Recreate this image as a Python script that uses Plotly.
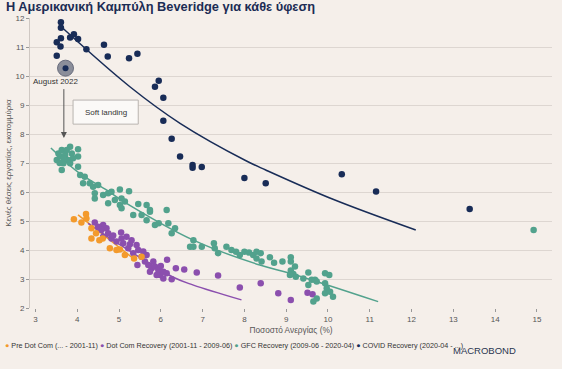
import plotly.graph_objects as go

# ---------------- data ----------------
covid_x = [3.61, 3.61, 3.61, 3.51, 3.60, 3.51, 3.83, 3.92, 4.02, 4.22, 4.64, 4.73, 5.24, 5.44,
           5.95, 5.86, 6.06, 6.06, 6.26, 6.46, 6.76, 6.76, 6.98, 8.00, 8.51, 10.33, 11.15, 13.39]
covid_y = [11.85, 11.66, 11.30, 11.16, 11.02, 10.70, 11.33, 11.44, 11.28, 10.92, 11.08, 10.67, 10.61, 10.77,
           9.84, 9.63, 9.25, 8.46, 7.84, 7.22, 6.93, 6.84, 6.86, 6.48, 6.30, 6.61, 6.02, 5.41]

aug2022_x = [3.72]
aug2022_y = [10.27]

gfc_x = [3.63, 3.83, 4.02, 3.51, 3.59, 3.71, 3.78, 3.67, 3.83, 3.63, 4.02, 4.02, 3.87, 3.55, 3.75, 3.90, 3.68, 3.58,
         4.07, 4.18, 4.14, 4.30, 4.38, 4.50, 4.42, 4.42, 4.62, 4.74, 4.82, 5.02, 5.24, 4.74, 4.90, 5.06, 5.02,
         5.14, 5.06, 5.46, 5.66, 5.74, 6.14, 5.34, 5.74, 5.54, 5.66, 5.86, 5.95, 6.18, 6.26, 6.34, 6.78, 6.70,
         6.78, 6.98, 7.27, 7.29, 7.37, 7.57, 7.69, 7.80, 7.89, 8.00, 8.11, 8.21, 8.29, 8.39, 8.41, 8.29, 8.61,
         8.71, 8.91, 9.11, 9.11, 9.21, 9.11, 9.17, 9.23, 9.09, 9.41, 9.53, 9.53, 9.61, 9.69, 9.73, 9.93, 10.03,
         9.93, 9.97, 9.93, 10.05, 10.12, 9.73, 9.65, 14.92]
gfc_y = [7.45, 7.56, 7.47, 7.10, 7.22, 7.28, 7.10, 6.99, 6.99, 6.76, 7.22, 6.87, 7.33, 7.33, 7.45, 7.16, 7.15, 7.00,
         6.59, 6.53, 6.30, 6.30, 6.18, 6.24, 5.96, 5.78, 5.90, 5.96, 6.01, 6.09, 6.03, 5.61, 5.72, 5.78, 5.55,
         5.67, 5.44, 5.59, 5.55, 5.38, 5.38, 5.21, 5.32, 5.21, 5.03, 4.86, 4.92, 4.92, 4.58, 4.75, 4.34, 4.11,
         4.11, 4.11, 4.23, 4.06, 3.89, 4.11, 4.00, 3.94, 3.83, 3.94, 3.91, 3.83, 3.94, 3.89, 3.60, 3.71, 3.75,
         3.56, 3.60, 3.75, 3.60, 3.43, 3.29, 3.17, 3.08, 3.14, 3.02, 3.22, 2.79, 2.97, 2.97, 2.91, 3.20, 3.14,
         2.85, 2.68, 2.51, 2.56, 2.39, 2.33, 2.22, 4.69]

dotcom_x = [4.42, 4.62, 4.70, 4.58, 4.74, 4.62, 4.82, 5.05, 5.06, 4.94, 5.10, 5.22, 5.42, 5.46, 5.34, 5.54,
            5.44, 5.62, 5.70, 5.78, 5.86, 5.94, 5.98, 6.06, 6.14, 6.26, 6.15, 6.36, 6.56, 6.86, 7.37, 7.89,
            8.39, 8.81, 9.11, 9.51, 9.63, 5.18, 5.30, 5.66, 5.82, 5.74, 5.90, 6.06, 4.50, 4.86, 5.26, 5.58, 6.00]
dotcom_y = [4.95, 4.86, 4.75, 4.69, 4.58, 4.46, 4.40, 4.60, 4.40, 4.29, 4.23, 4.06, 4.17, 4.00, 3.89, 3.77,
            3.48, 3.60, 3.48, 3.37, 3.43, 3.31, 3.14, 3.25, 3.20, 2.99, 3.66, 3.37, 3.33, 3.22, 3.12, 2.71,
            2.85, 2.51, 2.28, 2.53, 2.47, 4.46, 4.34, 3.83, 3.60, 3.25, 3.14, 3.02, 4.80, 4.50, 4.20, 3.95, 3.45]

pre_x = [3.92, 4.21, 4.22, 4.34, 4.34, 4.45, 4.53, 4.61, 4.94, 5.02, 5.14, 5.36, 5.54, 4.78, 4.10]
pre_y = [5.06, 5.24, 5.09, 4.75, 4.40, 4.58, 4.34, 4.40, 4.00, 4.02, 3.83, 3.71, 3.77, 4.06, 4.95]

# fitted curves
covid_fit_x = [3.63, 5.26, 6.46, 8.05, 8.51, 10.12, 12.1]
covid_fit_y = [11.68, 9.63, 8.37, 7.07, 6.76, 5.75, 4.69]
gfc_fit_x = [3.37, 4.06, 4.70, 5.18, 6.78, 8.37, 9.09, 11.2]
gfc_fit_y = [7.52, 6.64, 6.07, 5.61, 4.34, 3.48, 3.20, 2.22]
dotcom_fit_x = [4.26, 5.0, 6.30, 6.78, 7.93]
dotcom_fit_y = [4.92, 4.20, 3.06, 2.79, 2.28]
pre_fit_x = [4.02, 5.34]
pre_fit_y = [5.21, 3.71]

series_names = ["Pre Dot Com (... - 2001-11)", "Dot Com Recovery (2001-11 - 2009-06)",
                "GFC Recovery (2009-06 - 2020-04)", "COVID Recovery (2020-04 - ...)"]
x_ticks = list(range(3, 16))
y_ticks = list(range(2, 13))

# ---------------- style ----------------
C_PRE = "#f39a2c"
C_DOT = "#8b4fae"
C_GFC = "#52a28d"
C_COV = "#182c57"
BG = "#f5efea"
GRID = "#ddd6d1"
FONT = "Liberation Sans, Arial, sans-serif"
MS = 6.5

fig = go.Figure()

def fit(x, y, c):
    fig.add_trace(go.Scatter(x=x, y=y, mode="lines", line=dict(color=c, width=1.5, shape="spline"),
                             showlegend=False, hoverinfo="skip"))

fit(pre_fit_x, pre_fit_y, C_PRE)
fit(dotcom_fit_x, dotcom_fit_y, C_DOT)
fit(gfc_fit_x, gfc_fit_y, C_GFC)
fit(covid_fit_x, covid_fit_y, C_COV)

def pts(x, y, c, name):
    fig.add_trace(go.Scatter(x=x, y=y, mode="markers", name=name,
                             marker=dict(color=c, size=MS, line=dict(width=0)), cliponaxis=False,
                             showlegend=False))

pts(dotcom_x, dotcom_y, C_DOT, series_names[1])
pts(pre_x, pre_y, C_PRE, series_names[0])
pts(gfc_x, gfc_y, C_GFC, series_names[2])
pts(covid_x, covid_y, C_COV, series_names[3])

# August 2022 highlighted point
fig.add_trace(go.Scatter(x=aug2022_x, y=aug2022_y, mode="markers", showlegend=False,
                         marker=dict(color="rgba(120,124,140,0.85)", size=16,
                                     line=dict(color="rgba(95,100,118,0.9)", width=1))))
fig.add_trace(go.Scatter(x=aug2022_x, y=aug2022_y, mode="markers", showlegend=False,
                         marker=dict(color=C_COV, size=6)))

# Soft landing box
fig.add_shape(type="rect", x0=3.90, x1=5.46, y0=8.34, y1=9.17, xref="x", yref="y",
              fillcolor="#fbf9f7", line=dict(color="#b9b4b0", width=1), layer="above")
fig.add_annotation(x=4.68, y=8.755, text="Soft landing", showarrow=False,
                   font=dict(family=FONT, size=8, color="#333333"))

# August 2022 label and arrow
fig.add_annotation(x=3.47, y=9.80, text="August 2022", showarrow=False,
                   font=dict(family=FONT, size=8, color="#333333"))
fig.add_annotation(x=3.68, y=7.86, ax=3.68, ay=9.60, axref="x", ayref="y", xref="x", yref="y",
                   text="", showarrow=True, arrowhead=2, arrowsize=1.2, arrowwidth=1,
                   arrowcolor="#555555")

# title
fig.add_annotation(xref="paper", yref="paper", x=-0.05, y=1.038, xanchor="left", yanchor="middle",
                   text="<b>Η Αμερικανική Καμπύλη Beveridge για κάθε ύφεση</b>", showarrow=False,
                   font=dict(family=FONT, size=12.8, color="#1c2c54"))

# custom legend line
cols = [C_PRE, C_DOT, C_GFC, C_COV]
parts = [f'<span style="color:{c}">●</span> {n}' for c, n in zip(cols, series_names)]
fig.add_annotation(xref="paper", yref="paper", x=-0.052, y=-0.13, xanchor="left", yanchor="middle",
                   text=" ".join(parts), showarrow=False, align="left",
                   font=dict(family=FONT, size=7.2, color="#333333"))

# MACROBOND logo text
fig.add_annotation(xref="paper", yref="paper", x=0.935, y=-0.145, xanchor="right", yanchor="middle",
                   text="MACROBOND", showarrow=False,
                   font=dict(family=FONT, size=9.5, color="#2a3550"))

fig.update_layout(
    width=562, height=369,
    margin=dict(l=30, r=10, t=18, b=61, autoexpand=False),
    paper_bgcolor=BG, plot_bgcolor=BG,
    font=dict(family=FONT, color="#555555", size=8),
    showlegend=False,
    xaxis=dict(range=[2.87, 15.36], tickvals=x_ticks, showgrid=False, zeroline=False,
               ticks="outside", ticklen=3, tickcolor="#999999", automargin=False,
               tickfont=dict(size=8, color="#555555"),
               title=dict(text="Ποσοστό Ανεργίας (%)", font=dict(size=8.3, color="#555555"), standoff=4),
               showline=False),
    yaxis=dict(range=[2, 12], tickvals=y_ticks, showgrid=True, gridcolor=GRID, gridwidth=1,
               zeroline=False, ticks="outside", ticklen=3, tickcolor="#999999", automargin=False,
               tickfont=dict(size=8, color="#555555"),
               title=dict(text="Κενές θέσεις εργασίας, εκατομμύρια", font=dict(size=8, color="#555555"),
                          standoff=2),
               showline=True, linecolor="#cfc8c3", linewidth=1),
)

fig.write_html("out.html", config={"displayModeBar": False},
               post_script="document.body.style.margin='0';document.body.style.background='#f5efea';")
